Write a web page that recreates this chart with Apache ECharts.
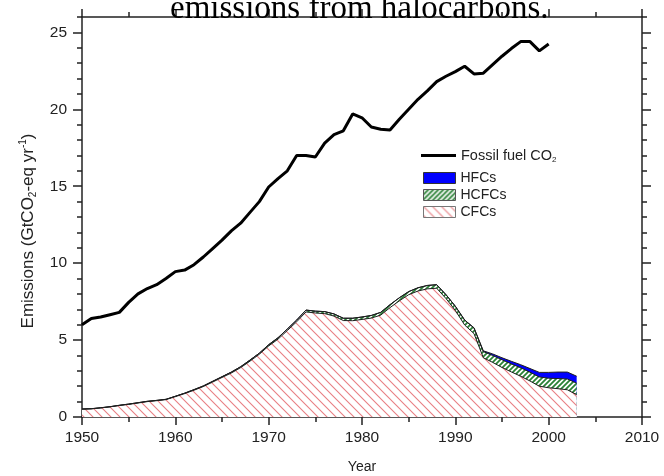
<!DOCTYPE html>
<html>
<head>
<meta charset="utf-8">
<title>emissions from halocarbons</title>
<script src="https://cdn.jsdelivr.net/npm/echarts@6/dist/echarts.min.js"></script>
<style>
html, body {
  margin: 0;
  padding: 0;
  background: #fff;
}
#chart {
  width: 664px;
  height: 476px;
}
</style>
</head>
<body>
<div id="chart"></div>
<script>
// fossil fuel CO2, 1950-2000 (GtCO2 / yr)
var fossilYears = [1950,1951,1952,1953,1954,1955,1956,1957,1958,1959,
  1960,1961,1962,1963,1964,1965,1966,1967,1968,1969,
  1970,1971,1972,1973,1974,1975,1976,1977,1978,1979,
  1980,1981,1982,1983,1984,1985,1986,1987,1988,1989,
  1990,1991,1992,1993,1994,1995,1996,1997,1998,1999,2000];
var fossilCO2 = [6.0,6.4,6.5,6.65,6.8,7.45,8.0,8.35,8.6,9.0,
  9.45,9.55,9.9,10.4,10.95,11.5,12.1,12.6,13.3,14.0,
  14.95,15.5,16.0,17.0,17.0,16.9,17.8,18.35,18.6,19.7,
  19.45,18.85,18.7,18.65,19.35,20.0,20.65,21.2,21.8,22.15,
  22.45,22.8,22.3,22.35,22.9,23.45,23.95,24.4,24.4,23.8,24.25];

// halocarbons, 1950-2003 (GtCO2-eq / yr), one layer each
var haloYears = [1950,1951,1952,1953,1954,1955,1956,1957,1958,1959,
  1960,1961,1962,1963,1964,1965,1966,1967,1968,1969,
  1970,1971,1972,1973,1974,1975,1976,1977,1978,1979,
  1980,1981,1982,1983,1984,1985,1986,1987,1988,1989,
  1990,1991,1992,1993,1994,1995,1996,1997,1998,1999,
  2000,2001,2002,2003];
var cfcs = [0.51,0.53,0.59,0.66,0.75,0.82,0.91,1.00,1.06,1.13,
  1.32,1.52,1.74,1.98,2.27,2.57,2.86,3.21,3.63,4.08,
  4.62,5.06,5.62,6.19,6.83,6.76,6.72,6.56,6.27,6.26,
  6.34,6.43,6.62,7.11,7.55,7.95,8.19,8.33,8.37,7.70,
  6.92,5.98,5.42,3.85,3.55,3.22,2.93,2.65,2.34,2.00,
  1.90,1.84,1.77,1.45];
var hcfcs = [0.01,0.01,0.01,0.01,0.01,0.02,0.02,0.02,0.02,0.02,
  0.03,0.03,0.04,0.04,0.05,0.05,0.06,0.06,0.07,0.07,
  0.08,0.09,0.10,0.11,0.12,0.12,0.13,0.14,0.15,0.16,
  0.16,0.17,0.18,0.19,0.20,0.20,0.21,0.22,0.23,0.25,
  0.28,0.32,0.36,0.40,0.45,0.50,0.52,0.55,0.57,0.60,
  0.62,0.66,0.70,0.75];
var hfcs = [0,0,0,0,0,0,0,0,0,0,
  0,0,0,0,0,0,0,0,0,0,
  0,0,0,0,0,0,0,0,0,0,
  0,0,0,0,0,0,0,0,0,0,
  0,0,0.02,0.05,0.10,0.13,0.17,0.20,0.24,0.30,
  0.38,0.42,0.45,0.45];

var xRange = [1950, 2010];
var yMajor = [0, 5, 10, 15, 20, 25];

var FONT = '"Liberation Sans", Arial, sans-serif';
var AXIS_COLOR = '#222';

// small repeating hatch tile
function hatch(size, color, bg, width, dir) {
  var c = document.createElement('canvas');
  c.width = size;
  c.height = size;
  var ctx = c.getContext('2d');
  ctx.fillStyle = bg;
  ctx.fillRect(0, 0, size, size);
  ctx.strokeStyle = color;
  ctx.lineWidth = width;
  ctx.beginPath();
  for (var k = -1; k <= 1; k++) {
    if (dir === 'down') {
      ctx.moveTo(-1, -1 + k * size);
      ctx.lineTo(size + 1, size + 1 + k * size);
    } else {
      ctx.moveTo(-1, size + 1 + k * size);
      ctx.lineTo(size + 1, -1 + k * size);
    }
  }
  ctx.stroke();
  return { image: c, repeat: 'repeat' };
}

var cfcFill = hatch(9, '#e87f84', '#ffffff', 1.1, 'down');
var hcfcFill = hatch(5, '#2a8236', '#ffffff', 1.8, 'up');
var hfcFill = '#0000ff';

// areas are drawn on top of each other, so each one needs its upper boundary
var cfcTop = [], hcfcTop = [], totalTop = [];
for (var i = 0; i < haloYears.length; i++) {
  var a = cfcs[i];
  var b = a + hcfcs[i];
  var t = b + hfcs[i];
  cfcTop.push([haloYears[i], +a.toFixed(2)]);
  hcfcTop.push([haloYears[i], +b.toFixed(2)]);
  totalTop.push([haloYears[i], +t.toFixed(2)]);
}
var fossilData = fossilYears.map(function (y, i) { return [y, fossilCO2[i]]; });

function areaSeries(name, data, fill) {
  return {
    name: name,
    type: 'line',
    xAxisIndex: 0,
    yAxisIndex: 0,
    data: data,
    symbol: 'none',
    lineStyle: { color: '#1e1e1e', width: 1 },
    areaStyle: { color: fill, opacity: 1 },
    itemStyle: { color: typeof fill === 'string' ? fill : '#888' },
    emphasis: { disabled: true }
  };
}

var tickStyle = { color: AXIS_COLOR, width: 1.5 };
var axisTxt = { fontFamily: FONT, fontSize: 15.5, color: AXIS_COLOR };
var subRich = {
  sub: { fontFamily: FONT, fontSize: 10, verticalAlign: 'bottom', lineHeight: 10, color: AXIS_COLOR },
  sup: { fontFamily: FONT, fontSize: 10, verticalAlign: 'top', lineHeight: 10, color: AXIS_COLOR }
};
var subRichSmall = {
  sub: { fontFamily: FONT, fontSize: 8, verticalAlign: 'bottom', lineHeight: 8, color: AXIS_COLOR }
};

var chart = echarts.init(document.getElementById('chart'));

var option = {
  animation: false,
  backgroundColor: '#fff',
  title: {
    text: 'emissions from halocarbons.',
    left: 170,
    top: -7,
    padding: 0,
    textStyle: { fontFamily: '"Liberation Serif", "Times New Roman", serif', fontSize: 33, fontWeight: 'normal', color: '#000' }
  },
  legend: [
    {
      // plain black bar as the line sample
      data: [{ name: 'Fossil fuel CO2', icon: 'path://M0,0H35V3H0Z', itemStyle: { color: '#000', borderWidth: 0 } }],
      left: 421,
      top: 147,
      padding: 0,
      itemWidth: 35,
      itemHeight: 3,
      formatter: function () { return 'Fossil fuel CO{sub|2}'; },
      textStyle: { fontFamily: FONT, fontSize: 14.5, color: AXIS_COLOR, lineHeight: 17, rich: subRichSmall },
      selectedMode: false
    },
    {
      orient: 'vertical',
      left: 423,
      top: 171,
      padding: 0,
      itemWidth: 32,
      itemHeight: 11,
      itemGap: 3,
      selectedMode: false,
      textStyle: { fontFamily: FONT, fontSize: 14, color: AXIS_COLOR },
      data: [
        { name: 'HFCs', icon: 'rect', itemStyle: { color: hfcFill, borderColor: '#333', borderWidth: 1 } },
        { name: 'HCFCs', icon: 'rect', itemStyle: { color: hcfcFill, borderColor: '#555', borderWidth: 1 } },
        { name: 'CFCs', icon: 'rect', itemStyle: { color: cfcFill, borderColor: '#777', borderWidth: 1 } }
      ]
    }
  ],
  grid: { left: 82, right: 22, top: 17, bottom: 59, containLabel: false, outerBoundsMode: 'none' },
  xAxis: [
    {
      type: 'value',
      position: 'bottom',
      min: xRange[0],
      max: xRange[1],
      interval: 10,
      name: 'Year',
      nameLocation: 'middle',
      nameGap: 43,
      nameTextStyle: { fontFamily: FONT, fontSize: 14, color: AXIS_COLOR },
      axisLine: { onZero: false, lineStyle: tickStyle },
      axisTick: { length: 8, lineStyle: tickStyle },
      minorTick: { show: true, splitNumber: 2, length: 5, lineStyle: tickStyle },
      axisLabel: Object.assign({ margin: 13, formatter: function (v) { return String(v); } }, axisTxt),
      splitLine: { show: false }
    },
    {
      type: 'value',
      position: 'top',
      min: xRange[0],
      max: xRange[1],
      interval: 10,
      axisLine: { onZero: false, lineStyle: tickStyle },
      axisTick: { length: 8, lineStyle: tickStyle },
      minorTick: { show: true, splitNumber: 2, length: 5, lineStyle: tickStyle },
      axisLabel: { show: false },
      splitLine: { show: false }
    }
  ],
  yAxis: [
    {
      type: 'value',
      position: 'left',
      min: 0,
      max: 26,
      interval: 5,
      name: 'Emissions (GtCO{sub|2}-eq yr{sup|-1})',
      nameLocation: 'middle',
      nameGap: 44,
      nameRotate: 90,
      nameTextStyle: { fontFamily: FONT, fontSize: 17, color: AXIS_COLOR, lineHeight: 20, padding: [0, 28, 0, 0], rich: subRich },
      axisLine: { onZero: false, lineStyle: tickStyle },
      axisTick: { length: 9, customValues: yMajor, lineStyle: tickStyle },
      axisLabel: Object.assign({ margin: 15, customValues: yMajor }, axisTxt),
      splitLine: { show: false }
    },
    {
      type: 'value',
      position: 'left',
      min: 0,
      max: 26,
      interval: 1,
      axisLine: { show: false, onZero: false },
      axisTick: { length: 5, lineStyle: tickStyle },
      axisLabel: { show: false },
      splitLine: { show: false }
    },
    {
      type: 'value',
      position: 'right',
      min: 0,
      max: 26,
      interval: 5,
      axisLine: { onZero: false, lineStyle: tickStyle },
      axisTick: { length: 9, customValues: yMajor, lineStyle: tickStyle },
      axisLabel: { show: false },
      splitLine: { show: false }
    },
    {
      type: 'value',
      position: 'right',
      min: 0,
      max: 26,
      interval: 1,
      axisLine: { show: false, onZero: false },
      axisTick: { length: 5, lineStyle: tickStyle },
      axisLabel: { show: false },
      splitLine: { show: false }
    }
  ],
  series: [
    areaSeries('HFCs', totalTop, hfcFill),
    areaSeries('HCFCs', hcfcTop, hcfcFill),
    areaSeries('CFCs', cfcTop, cfcFill),
    {
      name: 'Fossil fuel CO2',
      type: 'line',
      xAxisIndex: 0,
      yAxisIndex: 0,
      data: fossilData,
      symbol: 'none',
      itemStyle: { color: '#000' },
      lineStyle: { color: '#000', width: 3 },
      emphasis: { disabled: true },
      z: 5
    }
  ]
};

chart.setOption(option);
</script>
</body>
</html>
